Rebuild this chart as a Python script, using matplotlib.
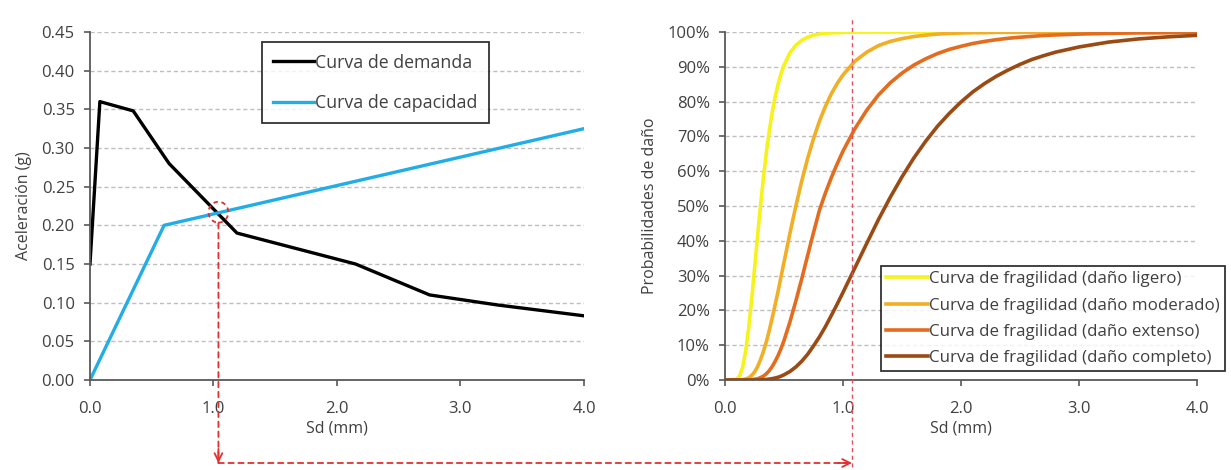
import matplotlib
matplotlib.use('Agg')
import matplotlib.pyplot as plt
from matplotlib.patches import Ellipse, ConnectionPatch
from matplotlib.lines import Line2D
from matplotlib.transforms import blended_transform_factory
from matplotlib.ticker import FuncFormatter

plt.rcParams['font.family'] = ['Open Sans', 'DejaVu Sans']

# curva de demanda / capacidad (Sd en mm, aceleracion en g)
demanda_sd = [0.0, 0.08, 0.35, 0.64, 1.19, 2.15, 2.75, 3.3, 4.0]
demanda_a = [0.15, 0.36, 0.348, 0.28, 0.19, 0.15, 0.11, 0.097, 0.083]
capacidad_sd = [0.0, 0.6, 4.0]
capacidad_a = [0.0, 0.2, 0.325]

# punto de desempeño
punto_sd = 1.04
punto_a = 0.217
sd_desempeno = 1.076

# curvas de fragilidad (probabilidad en %)
frag_sd = [0, 0.1, 0.125, 0.15, 0.175, 0.2, 0.225, 0.25, 0.275, 0.3,
           0.325, 0.35, 0.375, 0.4, 0.425, 0.45, 0.475, 0.5,
           0.55, 0.6, 0.65, 0.7, 0.75, 0.8, 0.85, 0.9, 0.95, 1.0,
           1.1, 1.2, 1.3, 1.4, 1.5, 1.6, 1.7, 1.8, 1.9,
           2.0, 2.1, 2.2, 2.3, 2.4, 2.5, 2.6, 2.7, 2.8,
           3.0, 3.25, 3.5, 3.75, 4.0]
ligero = [0, 0.2, 1.3, 3.8, 8.4, 14.9, 23.0, 32.0, 41.2, 50.0,
          58.1, 65.4, 71.6, 77.0, 81.4, 85.1, 88.1, 90.5,
          94.0, 96.2, 97.6, 98.5, 99.1, 99.4, 99.6, 99.8, 99.8, 99.9,
          100, 100, 100, 100, 100, 100, 100, 100, 100,
          100, 100, 100, 100, 100, 100, 100, 100, 100,
          100, 100, 100, 100, 100]
moderado = [0, 0, 0, 0.1, 0.3, 0.6, 1.3, 2.3, 3.8, 5.8,
            8.2, 11.0, 14.3, 17.9, 21.7, 25.6, 29.8, 33.9,
            42.2, 50.0, 57.2, 63.7, 69.4, 74.4, 78.6, 82.2, 85.2, 87.7,
            91.6, 94.2, 96.1, 97.3, 98.1, 98.7, 99.1, 99.4, 99.6,
            99.7, 99.8, 99.8, 99.9, 99.9, 99.9, 99.9, 99.9, 99.9,
            99.9, 99.9, 99.9, 99.9, 99.9]
extenso = [0, 0, 0, 0, 0, 0, 0.1, 0.2, 0.35, 0.7,
           1.1, 1.8, 2.7, 3.9, 5.4, 7.1, 9.1, 11.4,
           16.7, 22.7, 29.1, 35.8, 42.4, 48.8, 53.7, 58.1, 62.1, 65.8,
           72.2, 77.5, 81.9, 85.4, 88.2, 90.5, 92.3, 93.8, 95.0,
           95.9, 96.7, 97.3, 97.8, 98.2, 98.5, 98.75, 99.0, 99.15,
           99.4, 99.6, 99.75, 99.8, 99.9]
completo = [0, 0, 0, 0, 0, 0, 0, 0, 0, 0.05,
            0.09, 0.16, 0.26, 0.4, 0.57, 0.8, 1.1, 1.5,
            2.45, 3.75, 5.4, 7.4, 9.8, 12.4, 15.3, 18.5, 21.8, 25.2,
            32.2, 39.2, 46.1, 52.5, 58.4, 63.8, 68.6, 72.9, 76.6,
            79.9, 82.8, 85.2, 87.3, 89.1, 90.7, 92.1, 93.2, 94.2,
            95.7, 97.1, 98.0, 98.6, 99.05]

frag_series = [ligero, moderado, extenso, completo]
frag_labels = ['Curva de fragilidad (daño ligero)', 'Curva de fragilidad (daño moderado)',
               'Curva de fragilidad (daño extenso)', 'Curva de fragilidad (daño completo)']
frag_colors = ['#F6F21C', '#F2AE25', '#E46C1F', '#9A4A12']

txt = '#404040'
fs = 12
fs_leg = 12.8

fig = plt.figure(figsize=(12.31, 4.70), dpi=100)
ax1 = fig.add_axes([0.0731, 0.1915, 0.4013, 0.7404])
ax2 = fig.add_axes([0.5890, 0.1915, 0.3834, 0.7404])


def style_axes(ax):
    for s in ['top', 'right']:
        ax.spines[s].set_visible(False)
    for s in ['left', 'bottom']:
        ax.spines[s].set_color('#595959')
        ax.spines[s].set_linewidth(1.3)
    ax.tick_params(axis='both', colors='#595959', labelcolor=txt, labelsize=fs,
                   length=4, width=1.2, direction='out')
    ax.tick_params(axis='y', pad=7)
    ax.tick_params(axis='x', pad=11)
    ax.yaxis.grid(True, color='#BFBFBF', linestyle=(0, (3, 2)), linewidth=1)
    ax.set_axisbelow(True)
    ax.set_xlim(0, 4)
    ax.set_xticks([0, 1, 2, 3, 4])
    ax.xaxis.set_major_formatter(FuncFormatter(lambda v, p: '%.1f' % v))
    ax.set_xlabel('Sd (mm)', fontsize=11.5, color=txt, labelpad=3)


# ---- izquierda: demanda vs capacidad
style_axes(ax1)
ax1.plot(demanda_sd, demanda_a, color='black', lw=2.4, label='Curva de demanda')
ax1.plot(capacidad_sd, capacidad_a, color='#22ADE6', lw=2.4, label='Curva de capacidad')
ax1.set_ylim(0, 0.45)
ax1.set_yticks([i * 0.05 for i in range(10)])
ax1.yaxis.set_major_formatter(FuncFormatter(lambda v, p: '%.2f' % v))
ax1.set_ylabel('Aceleración (g)', fontsize=11.5, color=txt, labelpad=7)
leg1 = ax1.legend(loc='upper left', bbox_to_anchor=(0.348, 0.971), fontsize=fs_leg,
                  frameon=True, fancybox=False, edgecolor='black', handlelength=2.3,
                  handletextpad=0.05, labelspacing=1.25, borderpad=0.65, borderaxespad=0)
leg1.get_frame().set_linewidth(1.3)
for t in leg1.get_texts():
    t.set_color(txt)

ax1.add_patch(Ellipse((punto_sd, punto_a), 0.16, 0.027, fill=False, ec='#E03030',
                      lw=1.3, ls=(0, (2.5, 2)), zorder=5))

# ---- derecha: curvas de fragilidad
style_axes(ax2)
for serie, lab, col in zip(frag_series, frag_labels, frag_colors):
    ax2.plot(frag_sd, [v / 100 for v in serie], color=col, lw=2.6, label=lab,
             solid_joinstyle='round')
ax2.set_ylim(0, 1)
ax2.set_yticks([i / 10 for i in range(11)])
ax2.yaxis.set_major_formatter(FuncFormatter(lambda v, p: '%d%%' % round(v * 100)))
ax2.set_ylabel('Probabilidades de daño', fontsize=11.5, color=txt, labelpad=7)
leg2 = ax2.legend(loc='lower left', bbox_to_anchor=(0.331, 0.026), fontsize=12.2,
                  frameon=True, fancybox=False, edgecolor='black', handlelength=2.45,
                  handletextpad=0.05, labelspacing=0.6, borderpad=0.3, borderaxespad=0)
leg2.get_frame().set_linewidth(1.3)
leg2.set_clip_on(False)
for t in leg2.get_texts():
    t.set_color(txt)

# ---- flechas discontinuas que unen ambos graficos
red = '#E03030'
t1 = blended_transform_factory(ax1.transData, fig.transFigure)
t2 = blended_transform_factory(ax2.transData, fig.transFigure)
y_low = 1 - 463 / 470.0

ax1.annotate('', xy=(punto_sd, y_low), xycoords=t1,
             xytext=(punto_sd, punto_a - 0.014), textcoords='data',
             arrowprops=dict(arrowstyle='-', color=red, lw=1.3, ls=(0, (3, 2.5)),
                             shrinkA=0, shrinkB=0), annotation_clip=False)
ax1.annotate('', xy=(punto_sd, y_low), xycoords=t1,
             xytext=(punto_sd, y_low + 0.03), textcoords=t1,
             arrowprops=dict(arrowstyle='->', color=red, lw=1.3, mutation_scale=14,
                             shrinkA=0, shrinkB=0), annotation_clip=False)

con = ConnectionPatch(xyA=(punto_sd, y_low), coordsA=t1, xyB=(sd_desempeno, y_low), coordsB=t2,
                      arrowstyle='-', color=red, lw=1.3, ls=(0, (3, 2.5)))
fig.add_artist(con)
ax2.annotate('', xy=(sd_desempeno, y_low), xycoords=t2,
             xytext=(sd_desempeno - 0.12, y_low), textcoords=t2,
             arrowprops=dict(arrowstyle='->', color=red, lw=1.3, mutation_scale=14,
                             shrinkA=0, shrinkB=0), annotation_clip=False)

fig.add_artist(Line2D([sd_desempeno, sd_desempeno], [1 - 467 / 470.0, 1 - 17 / 470.0],
                      transform=t2, color='#E05060', lw=1.0, ls=(0, (3, 2.5)), zorder=6))

fig.savefig('out.png', dpi=100)
